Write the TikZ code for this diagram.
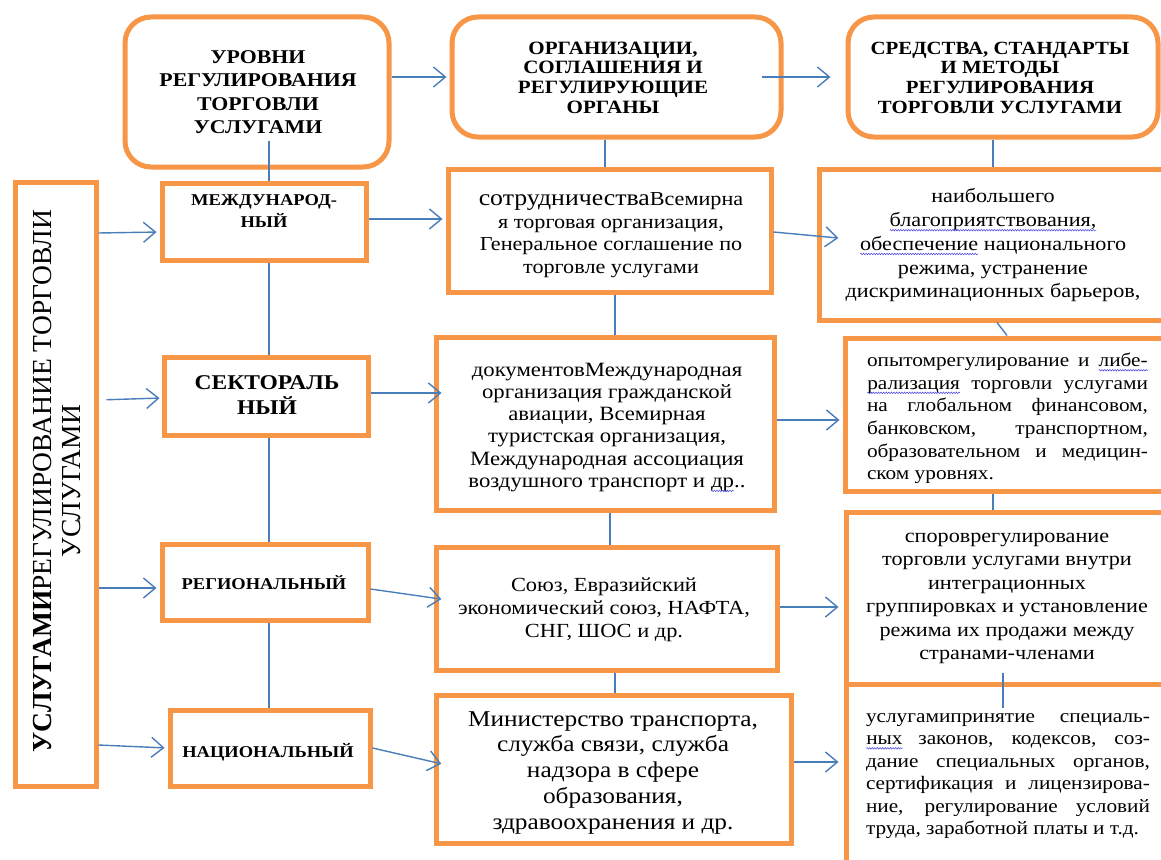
\documentclass[tikz,border=0pt]{standalone}
\usepackage{fontspec}
\setmainfont{Liberation Serif}[FakeStretch=1.12]
\newfontfamily\plainserif{Liberation Serif}
\usetikzlibrary{arrows.meta,decorations.pathmorphing}
\definecolor{boxorange}{RGB}{247,150,70}
\definecolor{lineblue}{RGB}{74,126,187}
\definecolor{sqblue}{RGB}{70,70,230}
\newcommand\squig[1]{\tikz[baseline=(sq.base),x=1cm,y=1cm]{\node[inner sep=0pt,outer sep=0pt] (sq) {#1};\draw[sqblue, line width=0.5pt, decorate, decoration={snake,amplitude=0.8pt,segment length=2.6pt}] ([yshift=-3.5pt]sq.base west) -- ([yshift=-3.5pt]sq.base east);}}
\tikzset{
  obox/.style={draw=boxorange, line width=5pt, inner sep=0pt},
  rbox/.style={obox, rounded corners=26pt},
  conn/.style={draw=lineblue, line width=1.4pt},
  arr/.style={conn, -{Straight Barb[length=12pt,width=20pt,line width=1.4pt]}},
  txt/.style={align=center, inner sep=0pt},
}
\begin{document}
\begin{tikzpicture}[x=1pt,y=-1pt]
\useasboundingbox (0,0) rectangle (1161,859);
\clip (0,0) rectangle (1161,859);
\fill[white] (0,0) rectangle (1161,859);

% headers
\node[rbox, minimum width=264pt, minimum height=150pt] (h1) at (257,92) {};
\node[rbox, minimum width=329pt, minimum height=120pt] (h2) at (616.5,77) {};
\node[rbox, minimum width=310pt, minimum height=120pt] (h3) at (1003,77) {};
\node[txt, font=\bfseries\fontsize{19.5}{23.3}\selectfont] (h1t) at (258,92) {УРОВНИ\\РЕГУЛИРОВАНИЯ\\ТОРГОВЛИ\\УСЛУГАМИ};
\node[txt, font=\bfseries\fontsize{18.8}{19.7}\selectfont] (h2t) at (613,77.5) {ОРГАНИЗАЦИИ,\\СОГЛАШЕНИЯ И\\РЕГУЛИРУЮЩИЕ\\ОРГАНЫ};
\node[txt, font=\bfseries\fontsize{18.6}{19.7}\selectfont] (h3t) at (1000,77.5) {СРЕДСТВА, СТАНДАРТЫ\\И МЕТОДЫ\\РЕГУЛИРОВАНИЯ\\ТОРГОВЛИ УСЛУГАМИ};

% left tall box
\node[obox, minimum width=81pt, minimum height=604pt] (lb) at (55.5,484) {};
\node[txt, rotate=90, font=\plainserif\fontsize{27.5}{29}\selectfont] (lbt) at (57.5,481) {\textbf{УСЛУГАМИ}РЕГУЛИРОВАНИЕ ТОРГОВЛИ\\УСЛУГАМИ};

% level boxes
\node[obox, minimum width=204pt, minimum height=77pt] (l1) at (264,221.5) {};
\node[obox, minimum width=204pt, minimum height=78pt] (l2) at (266,396) {};
\node[obox, minimum width=206pt, minimum height=76pt] (l3) at (265,582) {};
\node[obox, minimum width=200pt, minimum height=76pt] (l4) at (270,748) {};
\node[txt, font=\bfseries\fontsize{16.5}{22}\selectfont] (l1t) at (264,211) {МЕЖДУНАРОД-\\НЫЙ};
\node[txt, font=\bfseries\fontsize{21}{25}\selectfont] (l2t) at (267,395.5) {СЕКТОРАЛЬ\\НЫЙ};
\node[txt, font=\bfseries\fontsize{16.5}{20}\selectfont] (l3t) at (264,583) {РЕГИОНАЛЬНЫЙ};
\node[txt, font=\bfseries\fontsize{16.5}{20}\selectfont] (l4t) at (268,752) {НАЦИОНАЛЬНЫЙ};

% middle boxes
\node[obox, minimum width=323pt, minimum height=123pt] (m1) at (609.5,230.5) {};
\node[obox, minimum width=338pt, minimum height=173pt] (m2) at (605,423.5) {};
\node[obox, minimum width=341pt, minimum height=123pt] (m3) at (606.5,608.5) {};
\node[obox, minimum width=355pt, minimum height=148pt] (m4) at (613.5,769) {};
\node[txt, font=\fontsize{19.8}{22.5}\selectfont] (m1t) at (611,235) {{\fontsize{23}{22.5}\selectfont сотрудничества}Всемирна\\я торговая организация,\\Генеральное соглашение по\\торговле услугами};
\node[txt, font=\fontsize{20.3}{22.2}\selectfont] (m2t) at (607,427.5) {документовМеждународная\\организация гражданской\\авиации, Всемирная\\туристская организация,\\Международная ассоциация\\воздушного транспорт и \squig{др}..};
\node[txt, font=\fontsize{20}{23}\selectfont] (m3t) at (604,610) {Союз, Евразийский\\экономический союз, НАФТА,\\СНГ, ШОС и др.};
\begin{scope}
\clip (436,695) rectangle (791,836);
\node[txt, font=\fontsize{22.6}{25.75}\selectfont] (m4t) at (613,772.5) {Министерство транспорта,\\служба связи, служба\\надзора в сфере\\образования,\\здравоохранения и др.};
\end{scope}

% right boxes
\node[obox, minimum width=356pt, minimum height=151pt] (r1) at (997,244.5) {};
\node[obox, minimum width=330pt, minimum height=153pt] (r2) at (1010,414.5) {};
\node[obox, minimum width=329pt, minimum height=172pt] (r3) at (1010.5,598) {};
\node[obox, minimum width=329pt, minimum height=196pt] (r4) at (1010.5,782) {};
\node[txt, font=\fontsize{19.8}{23.75}\selectfont] (r1t) at (993,245.5) {наибольшего\\\squig{благоприятствования,}\\\squig{обеспечение} национального\\режима, устранение\\дискриминационных барьеров,};
\node[txt, align=left, font=\fontsize{19}{22.6}\selectfont] (r2t) at (1007.5,418.5) {\makebox[281pt][s]{опытомрегулирование и \squig{либе-}}\\\makebox[281pt][s]{\squig{рализация} торговли услугами}\\\makebox[281pt][s]{на глобальном финансовом,}\\\makebox[281pt][s]{банковском, транспортном,}\\\makebox[281pt][s]{образовательном и медицин-}\\ском уровнях.};
\node[txt, font=\fontsize{19.8}{23.4}\selectfont] (r3t) at (1007,598.5) {спороврегулирование\\торговли услугами внутри\\интеграционных\\группировках и установление\\режима их продажи между\\странами-членами};
\node[txt, align=left, font=\fontsize{19}{22.4}\selectfont] (r4t) at (1008,776) {\makebox[284pt][s]{услугамипринятие специаль-}\\\makebox[284pt][s]{\squig{ных} законов, кодексов, соз-}\\\makebox[284pt][s]{дание специальных органов,}\\\makebox[284pt][s]{сертификация и лицензирова-}\\\makebox[284pt][s]{ние, регулирование условий}\\труда, заработной платы и т.д.};

% header arrows
\draw[arr, shorten >=3pt] (h1.east |- h2.west) -- (h2.west);
\draw[arr, shorten <=-22pt, shorten >=15pt] (h2.east) -- (h3.west);

% vertical connectors, left column
\coordinate (v0) at (269,141);
\draw[conn] (v0) -- (v0 |- l1.north);
\draw[conn] (v0 |- l1.south) -- (v0 |- l2.north);
\draw[conn] (v0 |- l2.south) -- (v0 |- l3.north);
\draw[conn] (v0 |- l3.south) -- (v0 |- l4.north);

% vertical connectors, middle column
\draw[conn] (h2.south -| 605,0) -- (m1.north -| 605,0);
\draw[conn] (m1.south -| 615,0) -- (m2.north -| 615,0);
\draw[conn] (m2.south -| 610,0) -- (m3.north -| 610,0);
\draw[conn] (m3.south -| 615,0) -- (m4.north -| 615,0);

% vertical connectors, right column
\draw[conn] (h3.south -| 993,0) -- (r1.north -| 993,0);
\draw[conn] (r1.south -| 997,0) -- (r2.north -| 1007,0);
\draw[conn] (r2.south -| 993,0) -- (r3.north -| 993,0);
\draw[conn] (r3.south -| 1003,0) ++(0,-14) -- ++(0,35);

% arrows from left box to levels
\draw[arr, shorten >=3pt] (lb.east |- 0,233) -- (l1.west |- 0,232);
\draw[arr, shorten <=8pt, shorten >=2pt] (lb.east |- 0,400) -- (l2.west |- 0,398);
\draw[arr, shorten >=3pt] (lb.east |- 0,588) -- (l3.west |- 0,588);
\draw[arr, shorten >=3pt] (lb.east |- 0,745) -- (l4.west |- 0,748);

% arrows from levels to organisations
\draw[arr, shorten >=3pt] (l1.east |- 0,219) -- (m1.west |- 0,219);
\draw[arr, shorten >=-8pt] (l2.east |- 0,393) -- (m2.west |- 0,393);
\draw[arr, shorten >=-8pt] (l3.east |- 0,589) -- (m3.west |- 0,598);
\draw[arr, shorten >=-8pt] (l4.east |- 0,748) -- (m4.west |- 0,762);

% arrows from organisations to methods
\draw[arr, shorten >=-22pt] (m1.east |- 0,232) -- (r1.west |- 0,236);
\draw[arr, shorten >=3pt] (m2.east |- 0,420) -- (r2.west |- 0,420);
\draw[arr, shorten >=5pt] (m3.east |- 0,607) -- (r3.west |- 0,607);
\draw[arr, shorten >=5pt] (m4.east |- 0,762) -- (r4.west |- 0,762);
\end{tikzpicture}
\end{document}
